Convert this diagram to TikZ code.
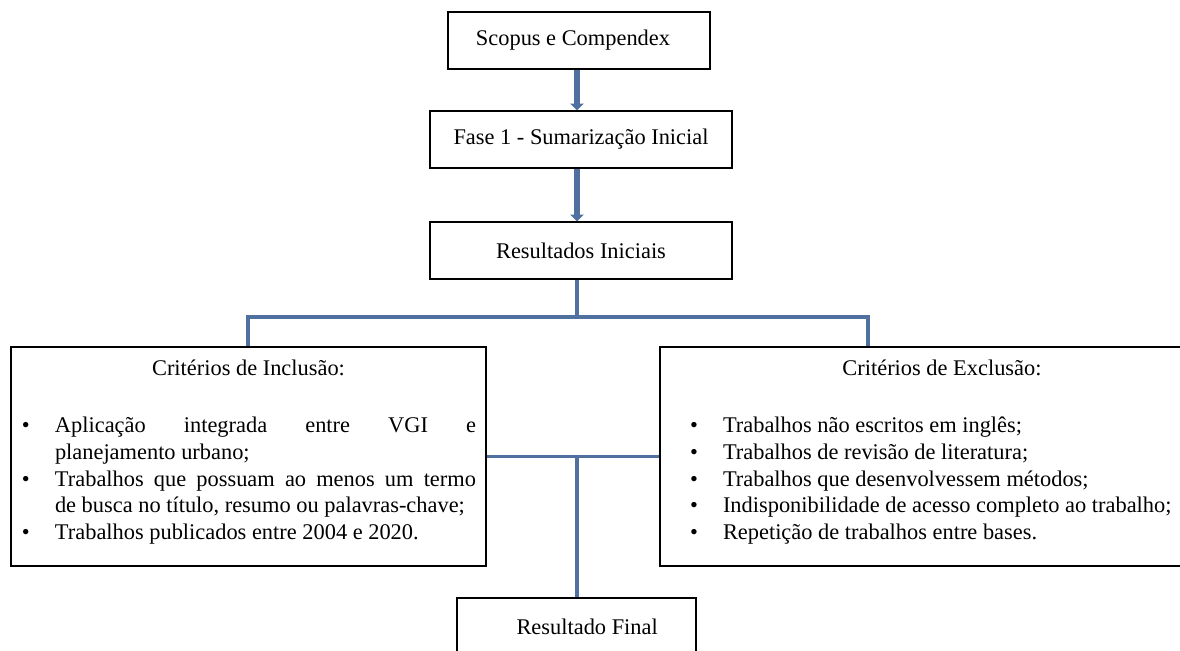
\documentclass[tikz,border=0pt]{standalone}
\usepackage{fontspec}
\setmainfont{Liberation Serif}
\usetikzlibrary{arrows.meta}
\definecolor{conn}{RGB}{80,112,160}
\newcommand{\bitem}[1]{\noindent\hangindent=24.75pt\hangafter=1\makebox[24.75pt][l]{\textbullet}#1\par}
\hbadness=10000
\begin{document}
\begin{tikzpicture}[x=0.75pt,y=-0.75pt,
  every node/.style={font=\fontsize{16.8}{20.2}\selectfont},
  box/.style={draw=black, line width=1.1pt, inner sep=0pt, fill=white},
  flowarrow/.style={draw=conn, line width=4.8pt, -{Triangle[width=10pt,length=5pt]}},
  link/.style={draw=conn, line width=2.6pt, line join=miter},
]
\useasboundingbox (0,0) rectangle (1180,650);
\coordinate (cx) at (577,0);
\coordinate (lt) at (248,317);
\coordinate (rt) at (868,317);

\node[box, minimum width=196.5pt, minimum height=42.75pt] (scopus) at (579,40.5) {\hspace*{-9pt}Scopus e Compendex};
\node[box, minimum width=226.5pt, minimum height=42.75pt] (fase) at (581,139.5) {Fase 1 - Sumarização Inicial};
\node[box, minimum width=226.5pt, minimum height=42.75pt] (res) at (581,250.5) {Resultados Iniciais};

\node[box] (incl) at (248.5,456.5) {%
\begin{minipage}[t][164.25pt][t]{356.25pt}
\hyphenpenalty=10000
\vspace*{9.5pt}
{\centering Critérios de Inclusão:\par}
\vspace{22.5pt}
\leftskip=8.25pt \rightskip=7.5pt
\bitem{Aplicação integrada entre VGI e\linebreak planejamento urbano;}
\bitem{Trabalhos que possuam ao menos um termo\linebreak de busca no título, resumo ou palavras-chave;}
\bitem{Trabalhos publicados entre 2004 e 2020.}
\end{minipage}};

\node[box] (excl) at (942,456.5) {%
\begin{minipage}[t][164.25pt][t]{423pt}
\hyphenpenalty=10000
\vspace*{9.5pt}
{\centering Critérios de Exclusão:\par}
\vspace{22.5pt}
\leftskip=22.5pt \rightskip=0pt plus 1fil
\bitem{Trabalhos não escritos em inglês;}
\bitem{Trabalhos de revisão de literatura;}
\bitem{Trabalhos que desenvolvessem métodos;}
\bitem{Indisponibilidade de acesso completo ao trabalho;}
\bitem{Repetição de trabalhos entre bases.}
\end{minipage}};

\node[box, minimum width=179.25pt, minimum height=42.75pt] (rf) at (576.5,626.5) {\hspace*{16pt}Resultado Final};

\draw[flowarrow] (scopus.south -| cx) -- (fase.north -| cx);
\draw[flowarrow] (fase.south -| cx) -- (res.north -| cx);
\draw[link] (res.south -| cx) -- (cx |- lt);
\draw[link] (incl.north -| lt) -- (lt) -- (rt) -- (excl.north -| rt);
\draw[link] (incl.east) -- (excl.west);
\draw[link] (cx |- incl.east) -- (rf.north -| cx);
\end{tikzpicture}
\end{document}
